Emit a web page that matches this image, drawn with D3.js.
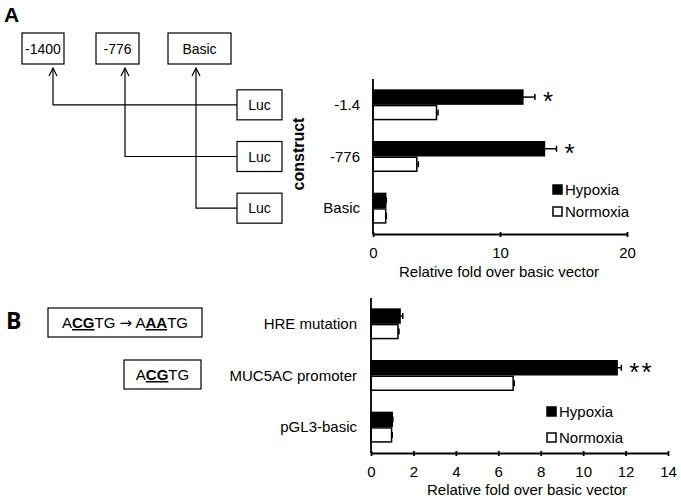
<!DOCTYPE html>
<html><head><meta charset="utf-8">
<script src="https://cdn.jsdelivr.net/npm/d3@7"></script>
<style>body{margin:0;background:#fff}svg{display:block;font-family:"Liberation Sans",Arial,sans-serif}</style>
</head><body><svg id="c" width="681" height="501"></svg>
<script>
// Panel A data
const catsA = ["-1.4", "-776", "Basic"];
const hypA = [11.8, 13.5, 1.0];
const hypErrA = [0.95, 0.95, 0.05];
const norA = [5.0, 3.45, 1.0];
const norErrA = [0.12, 0.12, 0.05];
const sigA = ["*", "*", ""];
const ticksA = [0, 10, 20];
// Panel B data
const catsB = ["HRE mutation", "MUC5AC promoter", "pGL3-basic"];
const hypB = [1.37, 11.6, 1.0];
const hypErrB = [0.13, 0.2, 0.03];
const norB = [1.27, 6.7, 0.97];
const norErrB = [0.05, 0.05, 0.03];
const sigB = ["", "**", ""];
const ticksB = [0, 2, 4, 6, 8, 10, 12, 14];
const seriesNames = ["Hypoxia", "Normoxia"];
const promoterBoxes = ["-1400", "-776", "Basic"];

const svg = d3.select("#c");
const FS = 15;

function panel(cfg) {
  const g = svg.append("g");
  const x = d3.scaleLinear().domain(cfg.domain).range(cfg.xr);
  const y = d3.scaleBand().domain(cfg.cats).range(cfg.yr).paddingInner(0.4).paddingOuter(0.2);
  const sub = d3.scaleBand().domain(seriesNames).range([0, y.bandwidth()]);
  const rows = cfg.cats.map((c, i) => ({c, i}));
  const series = [
    {name: "Hypoxia", vals: cfg.hyp, errs: cfg.hypErr, fill: "#000"},
    {name: "Normoxia", vals: cfg.nor, errs: cfg.norErr, fill: "#fff"}
  ];
  series.forEach(s => {
    rows.forEach(r => {
      const y0 = y(r.c) + sub(s.name);
      const h = sub.bandwidth();
      g.append("rect").attr("x", x(0)).attr("y", y0 + 0.75)
        .attr("width", x(s.vals[r.i]) - x(0)).attr("height", h - 1.5)
        .attr("fill", s.fill).attr("stroke", "#000").attr("stroke-width", 1.5);
      const e = s.vals[r.i] + s.errs[r.i];
      const cy = y0 + h / 2;
      g.append("line").attr("x1", x(s.vals[r.i])).attr("x2", x(e)).attr("y1", cy).attr("y2", cy)
        .attr("stroke", "#000").attr("stroke-width", 1.5);
      g.append("line").attr("x1", x(e)).attr("x2", x(e)).attr("y1", cy - 3).attr("y2", cy + 3)
        .attr("stroke", "#000").attr("stroke-width", 1.5);
    });
  });
  rows.forEach(r => {
    if (!cfg.sig[r.i]) return;
    const e = cfg.hyp[r.i] + cfg.hypErr[r.i];
    g.append("text").attr("x", x(e) + 8).attr("y", y(r.c) + sub("Hypoxia") + sub.bandwidth() / 2 + 13)
      .attr("font-size", 26).attr("letter-spacing", 2).text(cfg.sig[r.i]);
  });
  const ax = d3.axisBottom(x).tickValues(cfg.ticks).tickSize(4).tickSizeOuter(0).tickPadding(9);
  const axg = g.append("g").attr("transform", `translate(0,${cfg.yr[1]})`).call(ax);
  axg.select(".domain").attr("stroke-width", 1.8);
  axg.selectAll(".tick line").attr("stroke-width", 1.8).attr("y1", -2).attr("y2", 3);
  axg.selectAll(".tick text").attr("font-size", FS).attr("font-family", "Liberation Sans, Arial, sans-serif").attr("fill", "#000");
  g.append("line").attr("x1", x(0)).attr("x2", x(0)).attr("y1", cfg.yr[0]).attr("y2", cfg.yr[1])
    .attr("stroke", "#000").attr("stroke-width", 1.8);
  rows.forEach(r => {
    g.append("text").attr("x", cfg.labelX).attr("y", y(r.c) + y.bandwidth() / 2 + 5)
      .attr("text-anchor", "end").attr("font-size", FS).text(r.c);
  });
  g.append("text").attr("x", cfg.titleX).attr("y", cfg.titleY).attr("text-anchor", "middle")
    .attr("font-size", FS).text("Relative fold over basic vector");
  seriesNames.forEach((n, i) => {
    const ly = cfg.legY + i * cfg.legStep;
    g.append("rect").attr("x", cfg.legX).attr("y", ly - 10).attr("width", 9).attr("height", 9)
      .attr("fill", i === 0 ? "#000" : "#fff").attr("stroke", "#000").attr("stroke-width", 1.5);
    g.append("text").attr("x", cfg.legX + 12).attr("y", ly).attr("font-size", FS).text(n);
  });
  return {x, y};
}

const A = panel({cats: catsA, hyp: hypA, hypErr: hypErrA, nor: norA, norErr: norErrA, sig: sigA,
  domain: [0, 20], xr: [373, 627], yr: [79, 234], ticks: ticksA, labelX: 360,
  titleX: 499, titleY: 277, legX: 553, legY: 195, legStep: 22});
const B = panel({cats: catsB, hyp: hypB, hypErr: hypErrB, nor: norB, norErr: norErrB, sig: sigB,
  domain: [0, 14], xr: [371, 668], yr: [298, 453], ticks: ticksB, labelX: 357,
  titleX: 527, titleY: 495, legX: 547, legY: 417, legStep: 26});

svg.append("text").attr("transform", "translate(304,154) rotate(-90)").attr("text-anchor", "middle")
  .attr("font-size", 16).attr("font-weight", "bold").text("construct");

svg.append("text").attr("x", 4).attr("y", 22).attr("font-size", 21).attr("font-weight", "bold").text("A");
svg.append("text").attr("x", 6).attr("y", 329).attr("font-family", "Open Sans, sans-serif")
  .attr("font-size", 23).attr("font-weight", "bold").text("B");

const boxes = [{x: 22, w: 42, vx: 53}, {x: 96, w: 43, vx: 125}, {x: 168, w: 63, vx: 196}];
const dg = svg.append("g");
boxes.forEach((b, i) => {
  dg.append("rect").attr("x", b.x).attr("y", 33).attr("width", b.w).attr("height", 31)
    .attr("fill", "#fff").attr("stroke", "#000").attr("stroke-width", 1.2);
  dg.append("text").attr("x", b.x + b.w / 2).attr("y", 54).attr("text-anchor", "middle")
    .attr("font-size", 14).text(promoterBoxes[i]);
  const cy = A.y(catsA[i]) + A.y.bandwidth() / 2;
  dg.append("path").attr("d", `M237,${cy}H${b.vx}V68`).attr("fill", "none").attr("stroke", "#000").attr("stroke-width", 1.2);
  dg.append("path").attr("d", `M${b.vx - 4},76L${b.vx},68L${b.vx + 4},76`).attr("fill", "none").attr("stroke", "#000").attr("stroke-width", 1.2);
  dg.append("rect").attr("x", 237).attr("y", cy - 15).attr("width", 45).attr("height", 30)
    .attr("fill", "#fff").attr("stroke", "#000").attr("stroke-width", 1.2);
  dg.append("text").attr("x", 259.5).attr("y", cy + 5).attr("text-anchor", "middle").attr("font-size", 14).text("Luc");
});

function seqBox(bx, by, bw, parts) {
  svg.append("rect").attr("x", bx).attr("y", by).attr("width", bw).attr("height", 29)
    .attr("fill", "#fff").attr("stroke", "#000").attr("stroke-width", 1.2);
  const t = svg.append("text").attr("x", bx + bw / 2).attr("y", by + 20).attr("text-anchor", "middle").attr("font-size", 15);
  parts.forEach(p => {
    const s = t.append("tspan").text(p.t);
    if (p.b) s.attr("font-weight", "bold").attr("text-decoration", "underline");
    if (p.arrow) s.attr("font-family", "DejaVu Sans").attr("font-size", 15);
  });
}
seqBox(48, 308, 154, [{t: "A"}, {t: "CG", b: 1}, {t: "TG "}, {t: "\u2192", arrow: 1}, {t: " A"}, {t: "AA", b: 1}, {t: "TG"}]);
seqBox(124, 360, 77, [{t: "A"}, {t: "CG", b: 1}, {t: "TG"}]);
</script></body></html>
